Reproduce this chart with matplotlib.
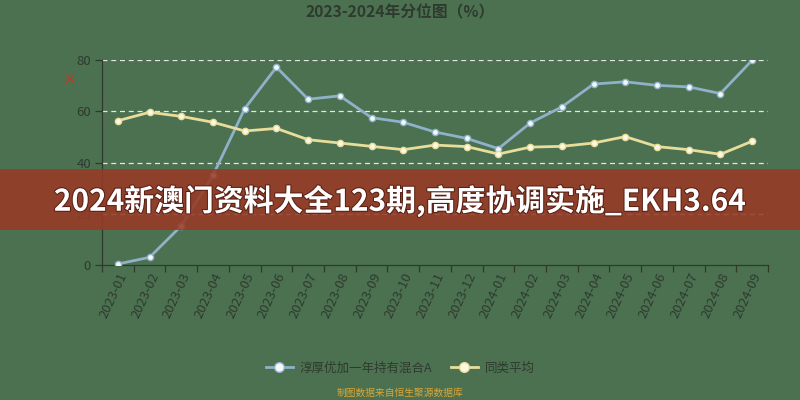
import matplotlib
matplotlib.use("Agg")
import matplotlib.pyplot as plt
from matplotlib.lines import Line2D
import matplotlib.patheffects as pe

plt.rcParams['font.family'] = ['Noto Sans CJK SC', 'DejaVu Sans']

months = ["2023-01", "2023-02", "2023-03", "2023-04", "2023-05", "2023-06", "2023-07",
          "2023-08", "2023-09", "2023-10", "2023-11", "2023-12", "2024-01", "2024-02",
          "2024-03", "2024-04", "2024-05", "2024-06", "2024-07", "2024-08", "2024-09"]
fund = [0.4, 3.0, 15.3, 35.0, 61.0, 77.2, 64.7, 66.0, 57.5, 55.7, 51.9, 49.4, 45.4,
        55.4, 61.7, 70.6, 71.5, 70.1, 69.5, 66.9, 79.9]
peer = [56.3, 59.6, 58.0, 55.7, 52.3, 53.3, 48.9, 47.6, 46.3, 45.0, 46.8, 46.2, 43.3,
        46.0, 46.3, 47.6, 50.1, 46.2, 45.0, 43.2, 48.3]
yticks = [0, 20, 40, 60, 80]
series_names = ["淳厚优加一年持有混合A", "同类平均"]
title = "2023-2024年分位图（%）"
banner = "2024新澳门资料大全123期,高度协调实施_EKH3.64"
source = "制图数据来自恒生聚源数据库"

bg = "#4b7150"
blue = "#8fb1c9"
yellow = "#e9dd9c"
dark = "#2f3a2f"

fig = plt.figure(figsize=(8, 4), dpi=100, facecolor=bg)
ax = fig.add_axes([102/800, 1-265/400, 666/800, 205/400])
ax.set_facecolor(bg)

x = list(range(len(months)))
ax.plot(x, fund, color=blue, lw=2, marker='o', ms=4.5, mfc='#f4f8fb', mec=blue, mew=1, zorder=3)
ax.plot(x, peer, color=yellow, lw=2, marker='o', ms=4.5, mfc='#fbf8e6', mec=yellow, mew=1, zorder=3)

ax.set_xlim(-0.5, len(months) - 0.5)
ax.set_ylim(0, 80)
ax.set_yticks(yticks)
ax.set_yticklabels([str(v) for v in yticks], color=dark, fontsize=9.5)
for v in yticks[1:]:
    ax.axhline(v, color='#e6e6e6', lw=0.9, ls=(0, (4, 3)), zorder=1)

ax.set_xticks(x)
ax.set_xticklabels(months, rotation=65, ha='right', va='top', rotation_mode='anchor',
                   color=dark, fontsize=9.5)
ax.tick_params(axis='x', length=0, pad=4)
ax.set_xticks([i - 0.5 for i in range(len(months) + 1)], minor=True)
ax.tick_params(axis='x', which='minor', length=5, color=dark, width=0.9)
ax.tick_params(axis='y', length=5, color=dark, width=0.9, pad=3)

for s in ['top', 'right']:
    ax.spines[s].set_visible(False)
for s in ['left', 'bottom']:
    ax.spines[s].set_color(dark)
    ax.spines[s].set_linewidth(0.9)

fig.text(0.5, 1-12/400, title, ha='center', va='center', fontsize=11.3, fontweight='bold', color=dark)
fig.text(70/800, 1-81/400, "×", ha='center', va='center', fontsize=10, color='#c0392b', fontweight='bold')

# legend
handles = [Line2D([0], [0], color=blue, lw=2, marker='o', ms=7, mfc='#f4f8fb', mec=blue),
           Line2D([0], [0], color=yellow, lw=2, marker='o', ms=7, mfc='#fbf8e6', mec=yellow)]
leg = fig.legend(handles, series_names, loc='center', bbox_to_anchor=(0.5, 1-368/400), ncol=2,
                 frameon=False, fontsize=9, handlelength=2.2, columnspacing=1.5, handletextpad=0.5)
for t in leg.get_texts():
    t.set_color(dark)

fig.text(0.5, 1-393/400, source, ha='center', va='center', fontsize=7, color='#d9a63a')

# banner
fig.patches.append(plt.Rectangle((0, 1-230/400), 1, 61/400, transform=fig.transFigure,
                                 facecolor='#983a26', alpha=0.88, zorder=5))
fig.text(0.5, 1-201/400, banner, ha='center', va='center', fontsize=21.5, fontweight='bold',
         color='white', zorder=6,
         path_effects=[pe.withStroke(linewidth=1.5, foreground='#5a2015')])

fig.savefig("out.png", dpi=100, facecolor=bg)
